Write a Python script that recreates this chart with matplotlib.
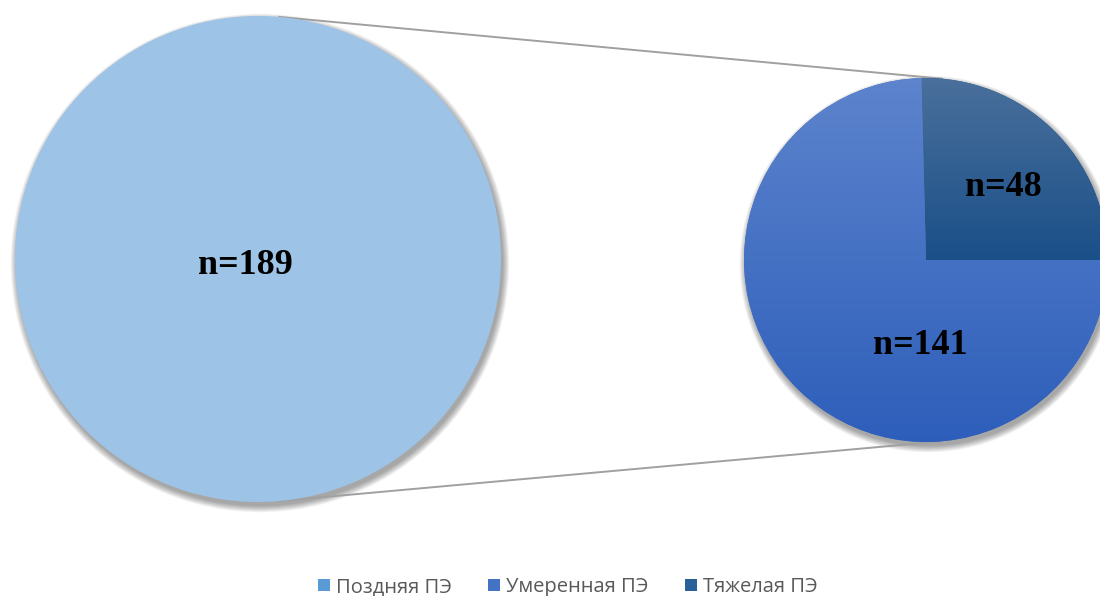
import numpy as np
import matplotlib.pyplot as plt
from matplotlib.patches import Circle, Patch
from matplotlib.colors import LinearSegmentedColormap

# Data
total_label = 'Поздняя ПЭ'
total_n = [189]
split_labels = ['Тяжелая ПЭ', 'Умеренная ПЭ']
split_n = [48, 141]
legend_labels = ['Поздняя ПЭ', 'Умеренная ПЭ', 'Тяжелая ПЭ']
legend_colors = ['#5b9bd5', '#4472c4', '#2a6099']

W, H = 1100, 596
fig = plt.figure(figsize=(W / 100, H / 100), dpi=100)
ax = fig.add_axes([0, 0, 1, 1])

# pie geometry in pixel units (y measured upward)
big_c, big_r = (258, H - 259), 243
small_c, small_r = (926, H - 260), 182


def shadow(c, r):
    for i in range(10):
        ax.add_patch(Circle((c[0] + 2, c[1] - 4), r + 0.7 * i, color='black',
                            alpha=0.04, lw=0, zorder=1))


shadow(big_c, big_r)
shadow(small_c, small_r)

# connector lines between the two pies
ang = np.deg2rad(85)
for s in (1, -1):
    x0 = big_c[0] + big_r * np.cos(ang)
    y0 = big_c[1] + s * big_r * np.sin(ang)
    x1 = small_c[0] + small_r * np.cos(ang)
    y1 = small_c[1] + s * small_r * np.sin(ang)
    ax.plot([x0, x1], [y0, y1], color='#a0a0a0', lw=1.4, zorder=2)

# primary pie
big_wedges, _ = ax.pie(total_n, center=big_c, radius=big_r, colors=['#9dc3e6'],
                       wedgeprops=dict(lw=0))
for w in big_wedges:
    w.set_zorder(3)

# secondary pie: severe slice ends at 3 o'clock
start = 360 * split_n[0] / sum(split_n)
small_wedges, _ = ax.pie(split_n, center=small_c, radius=small_r,
                         startangle=start, counterclock=False,
                         colors=['#2a6099', '#4472c4'],
                         wedgeprops=dict(lw=0))

# vertical gradient fill across each slice's own height
grads = [('#4a709c', '#1a4f88'), ('#5d84cd', '#2d5eba')]
grad = np.linspace(0, 1, 256).reshape(-1, 1)
for w, (top, bottom) in zip(small_wedges, grads):
    w.set_zorder(3)
    verts = w.get_path().vertices
    y_lo, y_hi = verts[:, 1].min(), verts[:, 1].max()
    cmap = LinearSegmentedColormap.from_list('g', [top, bottom])
    im = ax.imshow(grad, cmap=cmap, aspect='auto', zorder=4,
                   extent=[small_c[0] - small_r, small_c[0] + small_r, y_lo, y_hi],
                   origin='upper')
    im.set_clip_path(w)

# value labels
lab_font = dict(family='Liberation Serif', weight='bold', size=26,
                ha='center', va='center', zorder=6)
ax.text(245, H - 265, f'n={total_n[0]}', **lab_font)
ax.text(1003, H - 188, f'n={split_n[0]}', **lab_font)
ax.text(920, H - 345, f'n={split_n[1]}', **lab_font)

ax.set_xlim(0, W)
ax.set_ylim(0, H)
ax.set_aspect('auto')
ax.axis('off')

handles = [Patch(facecolor=c, edgecolor='none') for c in legend_colors]
fig.legend(handles, legend_labels, loc='center', bbox_to_anchor=(568 / W, 1 - 587 / H),
           ncol=3, frameon=False, handlelength=0.6, handleheight=0.6,
           handletextpad=0.3, columnspacing=1.8,
           prop=dict(family='Open Sans', size=14.5), labelcolor='#595959')

fig.savefig('out.png', dpi=100)
